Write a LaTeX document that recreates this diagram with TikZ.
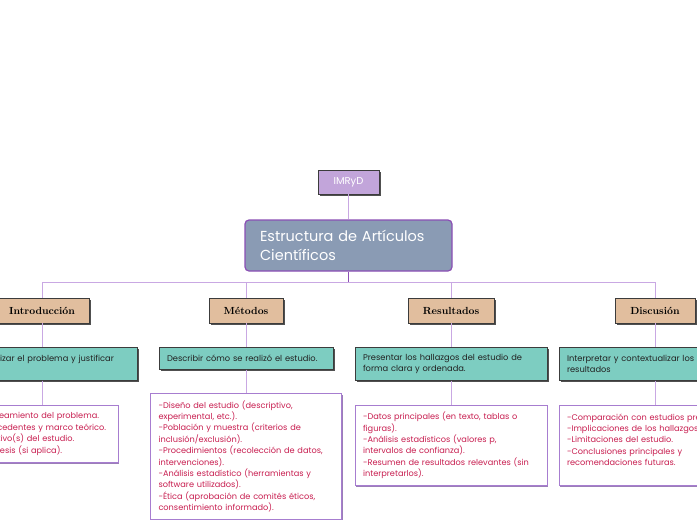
\documentclass[tikz,border=0pt]{standalone}
\usepackage{fontspec}
\newfontfamily\bodyfont{Poppins}
\usetikzlibrary{shadows}
\definecolor{imrfill}{HTML}{C2A5DA}
\definecolor{mainfill}{HTML}{8A9BB4}
\definecolor{mainborder}{HTML}{8B4FB5}
\definecolor{catfill}{HTML}{E1BE9E}
\definecolor{tealfill}{HTML}{7DCDC1}
\definecolor{wborder}{HTML}{A77DD0}
\definecolor{wtext}{HTML}{C81E50}
\definecolor{connc}{HTML}{C9A8E3}
\definecolor{darkline}{HTML}{3C3C3C}
\definecolor{shadowc}{HTML}{505050}
\definecolor{bodytext}{HTML}{222222}
\begin{document}
\begin{tikzpicture}[x=1pt,y=-1pt,
  shadowed/.style={drop shadow={shadow xshift=1.6pt,shadow yshift=-1.6pt,fill=shadowc,opacity=1}},
  imrbox/.style={draw=darkline,line width=0.6pt,fill=imrfill,text=white,minimum width=61pt,minimum height=24pt,inner sep=0pt,font=\bodyfont\fontsize{10}{12}\selectfont,shadowed},
  mainbox/.style={draw=mainborder,line width=1.2pt,fill=mainfill,rounded corners=4pt,text=white,minimum width=207pt,minimum height=51pt,inner xsep=15pt,text width=177pt,align=left,font=\bodyfont\fontsize{14.5}{19}\selectfont},
  catbox/.style={draw=darkline,line width=0.6pt,fill=catfill,text=black,minimum height=25pt,inner sep=0pt,font=\bfseries\fontsize{10.3}{12}\selectfont,shadowed},
  tealbox/.style={draw=darkline,line width=0.6pt,fill=tealfill,text=bodytext,anchor=north,inner xsep=8pt,inner ysep=0pt,align=left,font=\bodyfont\fontsize{8.3}{11}\selectfont,shadowed},
  wbox/.style={draw=wborder,line width=0.8pt,fill=white,text=wtext,anchor=north,inner xsep=8pt,inner ysep=0pt,align=left,font=\bodyfont\fontsize{8.2}{11.4}\selectfont,drop shadow={shadow xshift=1.4pt,shadow yshift=-1.4pt,fill=wborder!70!gray,opacity=1}},
  conn/.style={draw=connc,line width=0.9pt},
  mainconn/.style={draw=mainborder,line width=1.4pt}
]
\useasboundingbox (0,0) rectangle (697,520);
\clip (0,0) rectangle (697,520);
\fill[white] (0,0) rectangle (697,520);

% top nodes
\node[imrbox] (imr) at (348.5,182) {IMRyD};
\node[mainbox] (main) at (348.5,245.5) {Estructura de Artículos\\Científicos};
\coordinate (bus) at (348.5,282);

% categories
\node[catbox,minimum width=94pt] (intro) at (42,310.5) {Introducción};
\node[catbox,minimum width=74pt] (meto) at (246,310.5) {Métodos};
\node[catbox,minimum width=86pt] (resu) at (451,310.5) {Resultados};
\node[catbox,minimum width=80pt] (disc) at (655,310.5) {Discusión};

% teal boxes
\node[tealbox,text width=174pt,minimum height=33pt] (introT) at (42,347) {Contextualizar el problema y justificar\\ \mbox{}};
\node[tealbox,text width=158pt,minimum height=22pt] (metoT) at (246,347) {Describir cómo se realizó el estudio.};
\node[tealbox,text width=176pt,minimum height=33pt] (resuT) at (451,347) {Presentar los hallazgos del estudio de\\forma clara y ordenada.};
\node[tealbox,text width=176pt,minimum height=33pt] (discT) at (655,347) {Interpretar y contextualizar los\\resultados};

% white boxes
\node[wbox,text width=136pt,minimum height=57pt] (introW) at (42,405) {-Planteamiento del problema.\\-Antecedentes y marco teórico.\\-Objetivo(s) del estudio.\\-Hipótesis (si aplica).};
\node[wbox,text width=175pt,minimum height=126pt] (metoW) at (246,393) {-Diseño del estudio (descriptivo,\\experimental, etc.).\\-Población y muestra (criterios de\\inclusión/exclusión).\\-Procedimientos (recolección de datos,\\intervenciones).\\-Análisis estadístico (herramientas y\\software utilizados).\\-Ética (aprobación de comités éticos,\\consentimiento informado).};
\node[wbox,text width=176pt,minimum height=80pt] (resuW) at (451,405) {-Datos principales (en texto, tablas o\\figuras).\\-Análisis estadísticos (valores p,\\intervalos de confianza).\\-Resumen de resultados relevantes (sin\\interpretarlos).};
\node[wbox,text width=176pt,minimum height=80pt] (discW) at (655,405) {-Comparación con estudios previos.\\-Implicaciones de los hallazgos.\\-Limitaciones del estudio.\\-Conclusiones principales y\\recomendaciones futuras.\\ \mbox{}};

% connectors
\draw[conn] (imr) -- (main);
\draw[conn] (bus) -| (intro);
\draw[conn] (bus) -| (meto);
\draw[conn] (bus) -| (resu);
\draw[conn] (bus) -| (disc);
\draw[mainconn] (main) -- (bus);
\draw[conn] (intro) -- (introT);
\draw[conn] (meto) -- (metoT);
\draw[conn] (resu) -- (resuT);
\draw[conn] (disc) -- (discT);
\draw[conn] (introT) -- (introW);
\draw[conn] (metoT) -- (metoW);
\draw[conn] (resuT) -- (resuW);
\draw[conn] (discT) -- (discW);
\end{tikzpicture}
\end{document}
